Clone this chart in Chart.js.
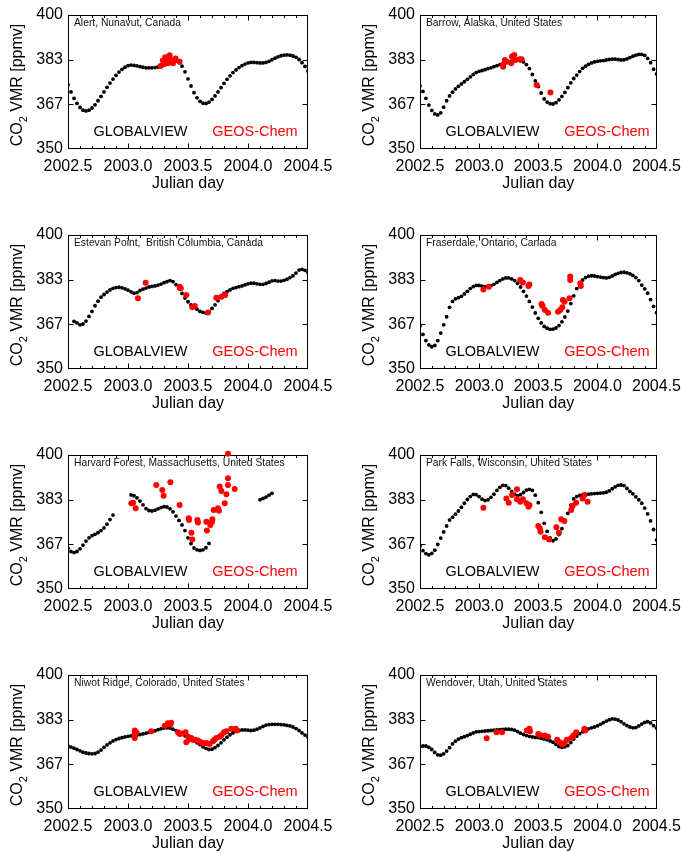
<!DOCTYPE html>
<html>
<head>
<meta charset="utf-8">
<script src="https://cdn.jsdelivr.net/npm/chart.js@4.4.0/dist/chart.umd.min.js"></script>
<style>
  html, body { margin: 0; padding: 0; background: #fff; }
  #page { position: relative; width: 689px; height: 851px; overflow: hidden; }
  canvas { position: absolute; }
</style>
</head>
<body>
<div id="page"></div>
<script>
// GLOBALVIEW series are sampled on a regular grid starting at gvStart
const gvStart = 2002.5;
const gvStep = 0.025;

const xTickValues = [2002.5, 2003.0, 2003.5, 2004.0, 2004.5];
const yTickValues = [350, 366.667, 383.333, 400];
const yTickLabels = ['350', '367', '383', '400'];

const alertGv = [
  374.0, 371.3, 368.9, 367.0, 365.5, 364.5, 364.2, 364.5, 365.3, 366.5,
  368.0, 369.6, 371.3, 373.0, 374.6, 376.1, 377.5, 378.7, 379.7, 380.5,
  381.1, 381.3, 381.2, 381.0, 380.7, 380.5, 380.3, 380.3, 380.3, 380.4,
  380.6, 380.9, 381.3, 381.8, 382.3, 382.7, 382.8, 382.2, 380.9, 378.8,
  376.2, 373.5, 371.0, 369.1, 367.8, 367.1, 367.0, 367.5, 368.5, 369.8,
  371.3, 372.9, 374.5, 376.0, 377.3, 378.5, 379.5, 380.4, 381.1, 381.7,
  382.1, 382.3, 382.3, 382.2, 382.1, 382.1, 382.3, 382.7, 383.3, 383.9,
  384.4, 384.8, 385.0, 385.1, 385.0, 384.7, 384.2, 383.4, 382.2, 380.8,
  379.1
];
const alertModel = [
  [3.272, 381.0], [3.290, 383.0], [3.310, 384.2], [3.333, 382.0], [3.347, 385.0],
  [3.360, 383.2], [3.375, 382.0], [3.397, 383.8], [3.430, 382.6], [3.300, 381.6],
  [3.320, 383.2]
];

const barrowGv = [
  373.5, 371.5, 368.9, 366.4, 364.4, 363.1, 362.7, 363.5, 365.6, 368.0,
  369.8, 371.2, 372.4, 373.4, 374.3, 375.1, 376.0, 376.9, 377.8, 378.5,
  379.0, 379.3, 379.6, 380.0, 380.3, 380.7, 381.1, 381.5, 381.9, 382.2,
  382.5, 382.8, 383.0, 383.1, 382.9, 382.5, 381.5, 380.0, 377.8, 375.4,
  373.3, 370.9, 368.7, 367.5, 366.9, 366.8, 367.3, 368.3, 369.6, 371.1,
  372.9, 374.7, 376.3, 377.6, 378.9, 380.1, 380.9, 381.6, 382.1, 382.5,
  382.7, 382.9, 383.0, 383.2, 383.4, 383.5, 383.5, 383.4, 383.2, 383.3,
  383.6, 384.1, 384.6, 385.0, 385.3, 385.3, 384.9, 383.8, 382.2, 379.8,
  378.0
];
const barrowModel = [
  [3.203, 380.7], [3.203, 381.5], [3.217, 383.2], [3.236, 382.6], [3.272, 382.0],
  [3.278, 384.5], [3.297, 385.1], [3.306, 383.2], [3.342, 383.5], [3.360, 383.5],
  [3.486, 373.9], [3.603, 371.1]
];

const estevanGv = [
  null, null, 367.8, 367.2, 366.5, 366.8, 367.9, 369.6, 371.5, 373.6,
  375.3, 376.8, 377.8, 378.7, 379.5, 380.1, 380.4, 380.5, 380.3, 379.9,
  379.4, 378.8, 378.3, 378.5, 379.3, 379.8, 380.2, 380.6, 380.8, 381.0,
  381.3, 381.7, 382.2, 382.6, 383.0, 382.6, 381.5, 379.9, 378.2, 376.5,
  375.1, 373.9, 373.0, 372.3, 371.5, 371.1, 370.9, 371.4, 372.6, 373.9,
  375.5, 376.9, 378.2, 378.9, 379.5, 380.1, 380.4, 380.7, 381.0, 381.4,
  381.8, 382.0, 382.0, 381.8, 381.6, 381.6, 381.9, 382.4, 382.9, 383.0,
  382.8, 382.8, 383.1, 383.5, 384.1, 384.8, 385.8, 386.9, 387.2, 386.8,
  385.9
];
const estevanModel = [
  [3.083, 376.4], [3.147, 382.2], [3.430, 380.7], [3.440, 380.1], [3.486, 377.6],
  [3.536, 373.0], [3.556, 373.5], [3.667, 371.1], [3.736, 376.6], [3.778, 377.0],
  [3.810, 377.6]
];

const fraserdaleGv = [
  366.0, 362.9, 360.6, 359.0, 358.3, 358.8, 360.6, 363.4, 366.5, 369.5,
  373.0, 375.2, 376.2, 376.6, 377.1, 378.0, 379.0, 380.0, 380.7, 381.2,
  381.2, 380.9, 380.7, 380.8, 381.1, 381.6, 382.3, 383.0, 383.6, 384.0,
  384.0, 383.6, 383.0, 382.0, 380.6, 379.0, 377.2, 375.2, 373.1, 370.9,
  368.9, 367.2, 365.9, 365.2, 364.8, 364.9, 365.3, 366.2, 367.6, 369.4,
  371.6, 374.4, 377.3, 380.0, 382.0, 383.2, 384.1, 384.6, 384.8, 384.7,
  384.5, 384.3, 384.1, 384.0, 384.2, 384.7, 385.3, 385.7, 386.0, 386.1,
  385.9, 385.5, 384.9, 384.1, 383.0, 381.3, 379.9, 378.3, 375.9, 373.4,
  371.0
];
const fraserdaleModel = [
  [3.036, 379.7], [3.083, 380.7], [3.347, 383.2], [3.370, 382.3], [3.417, 381.0],
  [3.425, 381.5], [3.528, 374.3], [3.536, 373.5], [3.556, 372.0], [3.583, 371.0],
  [3.667, 371.4], [3.686, 372.0], [3.703, 373.0], [3.708, 375.7], [3.722, 375.1],
  [3.764, 376.4], [3.770, 384.5], [3.770, 383.2], [3.856, 382.0], [3.860, 381.0]
];

const harvardGv = [
  365.2, 364.0, 363.6, 364.0, 365.0, 366.4, 367.9, 369.1, 369.9, 370.4,
  371.0, 371.8, 372.8, 374.2, 375.9, 377.6, null, null, null, null,
  null, 385.1, 384.8, 384.0, 382.8, 381.4, 380.0, 379.3, 379.1, 379.4,
  379.9, 380.4, 380.7, 380.6, 379.9, 378.8, 377.2, 375.6, 373.9, 371.8,
  369.1, 366.9, 365.3, 364.6, 364.4, 364.6, 365.4, 367.0, null, null,
  null, null, null, null, null, null, null, null, null, null,
  null, null, null, null, 383.3, 383.8, 384.3, 385.0, 385.7, null,
  null, null, null, null, null, null, null, null, null, null,
  null
];
const harvardModel = [
  [3.028, 382.0], [3.042, 382.2], [3.064, 380.1], [3.236, 388.8], [3.286, 386.9],
  [3.297, 384.8], [3.353, 389.8], [3.430, 381.3], [3.506, 376.4], [3.508, 375.7],
  [3.528, 371.0], [3.536, 368.5], [3.578, 375.7], [3.583, 374.8], [3.653, 375.1],
  [3.658, 371.8], [3.686, 373.9], [3.700, 375.0], [3.703, 376.0], [3.714, 379.5],
  [3.750, 380.1], [3.758, 379.2], [3.764, 388.2], [3.778, 386.6], [3.806, 382.0],
  [3.820, 385.4], [3.833, 391.3], [3.833, 388.8], [3.833, 400.5], [3.889, 387.3]
];

const parkFallsGv = [
  366.0, 364.3, 363.2, 362.7, 363.3, 364.5, 366.6, 369.0, 371.3, 373.5,
  375.7, 376.8, 377.9, 379.1, 380.5, 382.0, 383.4, 384.5, 385.3, 385.2,
  384.5, 383.5, 383.0, 383.3, 384.2, 385.4, 386.8, 387.9, 388.7, 388.6,
  387.6, 386.4, 385.4, 384.7, 385.2, 386.0, 386.9, 387.2, 386.8, 385.0,
  382.2, 378.6, 374.5, 371.5, 369.1, 368.0, 368.7, 370.3, 372.5, 375.2,
  378.2, 381.3, 383.6, 384.5, 384.9, 385.1, 385.3, 385.4, 385.5, 385.6,
  385.7, 385.8, 385.9, 386.1, 386.6, 387.4, 388.1, 388.7, 388.8, 388.6,
  387.5, 386.4, 385.5, 384.4, 383.3, 382.0, 380.2, 378.0, 375.4, 372.2,
  368.3
];
const parkFallsModel = [
  [3.036, 380.3], [3.230, 383.8], [3.250, 382.2], [3.278, 385.1], [3.320, 387.2],
  [3.320, 383.5], [3.347, 382.6], [3.370, 383.5], [3.400, 382.0], [3.417, 380.7],
  [3.425, 381.3], [3.500, 373.5], [3.514, 372.6], [3.519, 371.4], [3.556, 369.3],
  [3.592, 368.5], [3.653, 373.0], [3.675, 371.0], [3.694, 376.0], [3.720, 375.4],
  [3.778, 379.5], [3.790, 381.0], [3.820, 382.2], [3.875, 383.8], [3.890, 385.1],
  [3.917, 382.6]
];

const niwotGv = [
  373.5, 373.1, 372.7, 372.2, 371.7, 371.2, 370.9, 370.7, 370.6, 370.7,
  371.2, 372.0, 373.0, 373.9, 374.7, 375.4, 375.9, 376.3, 376.6, 376.9,
  377.1, 377.3, 377.5, 377.6, 377.8, 378.0, 378.3, 378.6, 378.9, 379.2,
  379.6, 379.9, 380.2, 380.3, 380.2, 379.8, 379.2, 378.6, 378.0, 377.3,
  376.7, 376.1, 375.4, 374.7, 374.0, 373.2, 372.6, 372.2, 372.3, 372.9,
  373.7, 374.7, 375.8, 376.8, 377.7, 378.4, 379.0, 379.3, 379.5, 379.5,
  379.4, 379.3, 379.4, 379.8, 380.3, 380.8, 381.3, 381.5, 381.6, 381.6,
  381.6, 381.5, 381.4, 381.2, 381.0, 380.6, 380.0, 379.3, 378.4, 377.6,
  376.8
];
const niwotModel = [
  [3.056, 379.3], [3.056, 378.0], [3.056, 376.5], [3.070, 378.6], [3.194, 379.0],
  [3.306, 381.1], [3.333, 382.0], [3.353, 381.5], [3.360, 382.2], [3.417, 378.6],
  [3.430, 378.0], [3.450, 378.2], [3.480, 378.6], [3.486, 374.9], [3.500, 377.0],
  [3.515, 376.0], [3.528, 376.5], [3.540, 375.8], [3.560, 375.8], [3.583, 375.6],
  [3.610, 374.9], [3.625, 374.5], [3.653, 374.6], [3.680, 374.3], [3.708, 375.3],
  [3.720, 375.8], [3.736, 376.5], [3.764, 377.0], [3.780, 377.6], [3.800, 378.6],
  [3.820, 379.0], [3.860, 379.9], [3.897, 379.9], [3.908, 379.3]
];

const wendoverGv = [
  373.3, 373.5, 373.5, 373.0, 372.2, 371.1, 370.2, 370.1, 370.6, 371.6,
  372.9, 374.3, 375.3, 376.1, 376.6, 377.0, 377.4, 377.9, 378.4, 378.8,
  378.9, 379.0, 379.1, 379.2, 379.3, 379.4, 379.5, 379.6, 379.7, 379.8,
  379.8, 379.7, 379.4, 378.9, 378.3, 377.8, 377.4, 377.1, 376.9, 376.7,
  376.6, 376.4, 376.1, 375.8, 375.4, 374.9, 374.1, 373.3, 373.0, 373.2,
  373.7, 374.8, 376.1, 377.2, 378.1, 378.8, 379.4, 379.9, 380.3, 380.6,
  381.0, 381.6, 382.2, 382.8, 383.3, 383.6, 383.5, 383.2, 382.6, 381.8,
  381.1, 380.6, 380.3, 380.4, 381.0, 381.7, 382.3, 382.6, 382.1, 381.1,
  380.2
];
const wendoverModel = [
  [3.064, 376.4], [3.147, 378.6], [3.194, 378.6], [3.403, 379.3], [3.425, 379.9],
  [3.430, 379.0], [3.500, 378.0], [3.514, 377.6], [3.556, 377.4], [3.583, 377.0],
  [3.660, 375.8], [3.680, 374.9], [3.703, 374.1], [3.722, 374.6], [3.742, 375.8],
  [3.778, 376.5], [3.797, 377.4], [3.820, 378.6], [3.890, 379.9], [3.897, 379.3]
];

const stations = [
  { name: 'Alert, Nunavut, Canada', gv: alertGv, model: alertModel },
  { name: 'Barrow, Alaska, United States', gv: barrowGv, model: barrowModel },
  { name: 'Estevan Point,  British Columbia, Canada', gv: estevanGv, model: estevanModel },
  { name: 'Fraserdale, Ontario, Canada', gv: fraserdaleGv, model: fraserdaleModel },
  { name: 'Harvard Forest, Massachusetts, United States', gv: harvardGv, model: harvardModel },
  { name: 'Park Falls, Wisconsin, United States', gv: parkFallsGv, model: parkFallsModel },
  { name: 'Niwot Ridge, Colorado, United States', gv: niwotGv, model: niwotModel },
  { name: 'Wendover, Utah, United States', gv: wendoverGv, model: wendoverModel },
];

const FONT = 'Arial, "Liberation Sans", Helvetica, sans-serif';
Chart.defaults.font.family = FONT;
Chart.defaults.color = '#000';

// box, inward ticks, y title with subscript and the in-plot texts
const panelDecor = {
  id: 'panelDecor',
  beforeDatasetsDraw(chart) {
    const { ctx, chartArea: a, scales: { x, y } } = chart;
    const l = Math.round(a.left) + 0.5, r = Math.round(a.right) - 0.5;
    const t = Math.round(a.top) + 0.5, b = Math.round(a.bottom) - 0.5;
    ctx.save();
    ctx.strokeStyle = '#000';
    ctx.lineWidth = 1;
    ctx.strokeRect(l, t, r - l, b - t);
    ctx.beginPath();
    for (let k = 1; k < 20; k++) {
      const px = Math.round(x.getPixelForValue(gvStart + k * 0.1)) + 0.5;
      const len = k % 5 === 0 ? 5 : 2.5;
      ctx.moveTo(px, b); ctx.lineTo(px, b - len);
      ctx.moveTo(px, t); ctx.lineTo(px, t + len);
    }
    yTickValues.slice(1, -1).forEach(v => {
      const py = Math.round(y.getPixelForValue(v)) + 0.5;
      ctx.moveTo(l, py); ctx.lineTo(l + 5, py);
      ctx.moveTo(r, py); ctx.lineTo(r - 5, py);
    });
    ctx.stroke();

    // station name
    ctx.fillStyle = '#111';
    ctx.font = `10.3px ${FONT}`;
    ctx.textAlign = 'left';
    ctx.textBaseline = 'middle';
    ctx.fillText(chart.options.plugins.panelDecor.name, a.left + 6, a.top + 8);

    // legend words
    ctx.font = `14.5px ${FONT}`;
    ctx.textAlign = 'center';
    ctx.fillStyle = '#000';
    ctx.fillText('GLOBALVIEW', a.left + 72.5, a.top + 117);
    ctx.fillStyle = '#ff0000';
    ctx.fillText('GEOS-Chem', a.left + 187, a.top + 117);

    // y title: CO2 VMR [ppmv]
    const cx = a.left - 50, cy = (a.top + a.bottom) / 2 + 3;
    ctx.translate(cx, cy);
    ctx.rotate(-Math.PI / 2);
    ctx.fillStyle = '#000';
    ctx.textAlign = 'left';
    const big = `16px ${FONT}`, small = `11px ${FONT}`;
    ctx.font = big;
    const w1 = ctx.measureText('CO').width;
    const w3 = ctx.measureText(' VMR [ppmv]').width;
    ctx.font = small;
    const w2 = ctx.measureText('2').width;
    let tx = -(w1 + w2 + w3) / 2;
    ctx.font = big; ctx.fillText('CO', tx, 0); tx += w1;
    ctx.font = small; ctx.fillText('2', tx, 6); tx += w2;
    ctx.font = big; ctx.fillText(' VMR [ppmv]', tx, 0);
    ctx.restore();
  }
};

const page = document.getElementById('page');

stations.forEach((st, i) => {
  const col = i % 2, row = Math.floor(i / 2);
  const canvas = document.createElement('canvas');
  const w = col === 0 ? 345 : 344;
  canvas.width = w;
  canvas.height = 220;
  canvas.style.left = (col === 0 ? 0 : 345) + 'px';
  canvas.style.top = (row * 220) + 'px';
  page.appendChild(canvas);

  const yAxisWidth = col === 0 ? 68 : 75;
  const rightPad = col === 0 ? 37 : 29;

  new Chart(canvas, {
    type: 'scatter',
    data: {
      datasets: [
        {
          label: 'GEOS-Chem',
          data: st.model.map(([t, v]) => ({ x: 2000 + t, y: v })),
          pointRadius: 3,
          pointBackgroundColor: '#ff0000',
          pointBorderWidth: 0,
          clip: 6,
        },
        {
          label: 'GLOBALVIEW',
          data: st.gv.map((v, k) => ({ x: gvStart + k * gvStep, y: v })),
          pointRadius: 1.9,
          pointBackgroundColor: '#000',
          pointBorderWidth: 0,
        },
      ],
    },
    options: {
      responsive: false,
      animation: false,
      events: [],
      layout: { padding: { top: 15, right: rightPad, left: 0, bottom: 0 } },
      plugins: {
        legend: { display: false },
        tooltip: { enabled: false },
        panelDecor: { name: st.name },
      },
      scales: {
        x: {
          type: 'linear',
          min: 2002.5,
          max: 2004.5,
          afterBuildTicks: s => { s.ticks = xTickValues.map(v => ({ value: v })); },
          afterFit: s => { s.height = 71; },
          ticks: {
            callback: v => Number(v).toFixed(1),
            maxRotation: 0,
            autoSkip: false,
            padding: 8,
            font: { size: 16 },
            color: '#000',
          },
          title: {
            display: true,
            text: 'Julian day',
            font: { size: 16 },
            color: '#000',
            padding: { top: 0, bottom: 27 },
          },
          grid: { display: false, drawTicks: false },
          border: { display: false },
        },
        y: {
          min: 350,
          max: 400,
          afterBuildTicks: s => { s.ticks = yTickValues.map(v => ({ value: v })); },
          afterFit: s => { s.width = yAxisWidth; },
          ticks: {
            callback: (v, k) => yTickLabels[k],
            padding: 5,
            font: { size: 16 },
            color: '#000',
          },
          grid: { display: false, drawTicks: false },
          border: { display: false },
        },
      },
    },
    plugins: [panelDecor],
  });
});
</script>
</body>
</html>
